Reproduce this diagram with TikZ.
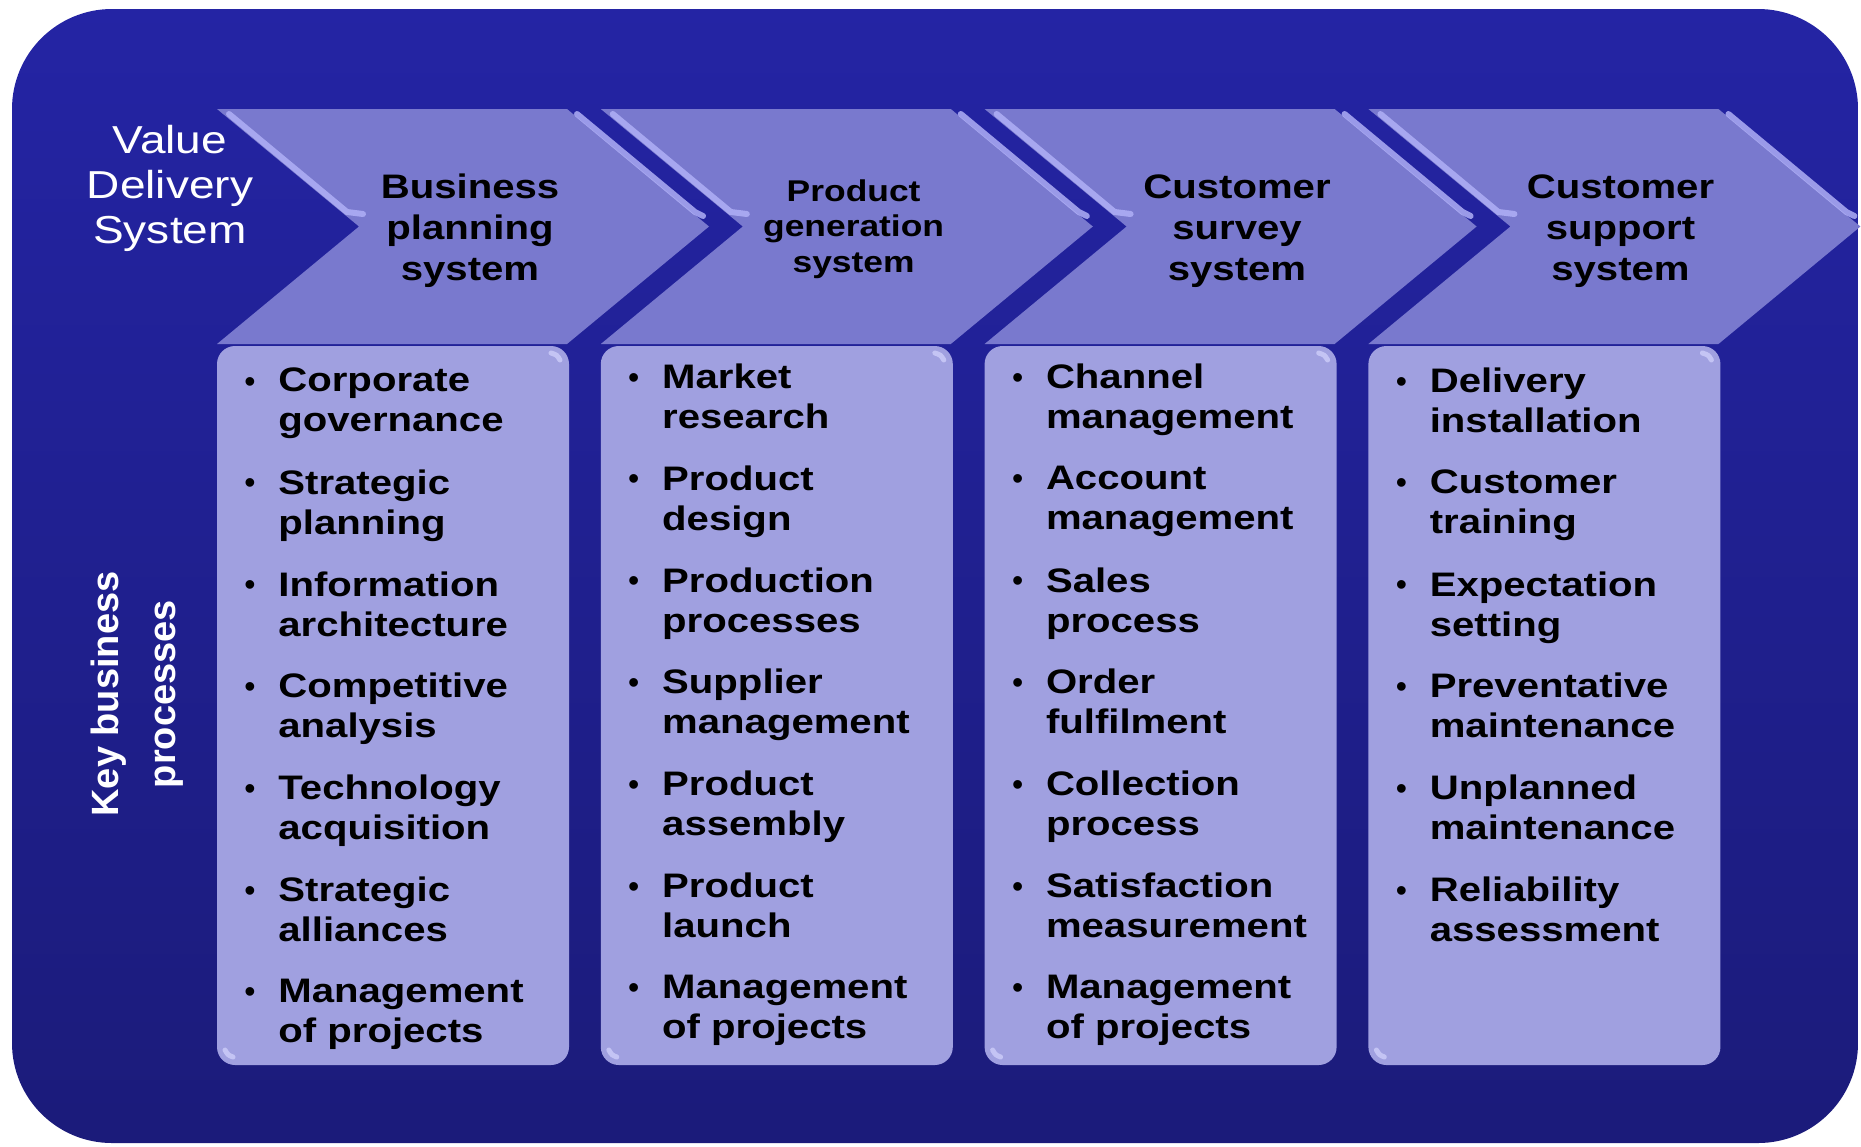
\documentclass[tikz,border=0pt]{standalone}
\usepackage{fontspec}
\setmainfont{Liberation Sans}
\newfontfamily\widefont{Liberation Sans}[FakeStretch=1.18]
\usetikzlibrary{positioning}
\definecolor{bgtop}{RGB}{36,36,164}
\definecolor{bgbot}{RGB}{27,27,122}
\definecolor{chevfill}{RGB}{121,121,206}
\definecolor{chevlight}{RGB}{176,176,246}
\definecolor{boxfill}{RGB}{160,160,224}
\definecolor{boxlight}{RGB}{206,206,250}
\tikzset{
  pics/chevron/.style={code={
    \fill[chevfill] (0,109) -- (350,109) -- (492,226.5) -- (350,344) -- (0,344) -- (142,226.5) -- cycle;
    \draw[chevlight, line width=3pt, line cap=round, opacity=0.85] (12,114) -- (130,212) -- (146,214);
    \draw[chevlight, line width=3pt, line cap=round, opacity=0.85] (360,114) -- (478,212) -- (486,216);
  }},
  pics/procbox/.style={code={
    \fill[boxfill, rounded corners=9pt] (0,346) rectangle (352,1065);
    \draw[boxlight, line width=2.5pt, line cap=round, opacity=0.8] (334,353) .. controls (340,355) .. (343,360);
    \draw[boxlight, line width=2.5pt, line cap=round, opacity=0.8] (8,1050) .. controls (11,1055) .. (16,1057);
  }},
  vds/.style={text=white, align=center, inner sep=0pt,
    font=\widefont\fontsize{19.5pt}{22.5pt}\selectfont},
  kbp/.style={text=white, align=center, inner sep=0pt,
    font=\bfseries\fontsize{19pt}{28.5pt}\selectfont},
  ttl/.style={text=black, align=center, inner sep=0pt,
    font=\widefont\bfseries\fontsize{17pt}{20.5pt}\selectfont},
  ttlsmall/.style={ttl, font=\widefont\bfseries\fontsize{15pt}{17.8pt}\selectfont},
  itm/.style={text=black, align=left, inner sep=0pt, anchor=north west,
    font=\widefont\bfseries\fontsize{17pt}{20pt}\selectfont},
  bul/.style={text=black, inner sep=0pt, anchor=base,
    font=\fontsize{16pt}{16pt}\selectfont}
}
% one bullet entry: name, box left, baseline, text
\newcommand{\procitem}[4]{%
  \node[bul] (#1-b) at ({#2+33},{#3}) {\textbullet};
  \node[itm] (#1) at ({#2+61},{#3-24.5}) {#4};
}

\begin{document}
\begin{tikzpicture}[x=0.5pt,y=-0.5pt]
\useasboundingbox (0,0) rectangle (1861,1146);

% ---------------- Backdrop ----------------
\shade[top color=bgtop, bottom color=bgbot, rounded corners=50pt] (12,9) rectangle (1858,1143);

% ---------------- Chevrons and process boxes ----------------
\foreach \i in {0,...,3} {
  \pgfmathsetmacro\xo{217+383.8*\i}
  \draw (\xo,0) pic {chevron};
  \draw (\xo,0) pic {procbox};
}

% ---------------- Side labels ----------------
\node[vds] (vds) at (170,188.5) {Value\\Delivery\\System};
\node[kbp, rotate=90] (kbp) at (137,694) {Key business\\processes};

% ---------------- Chevron titles ----------------
\node[ttl] (t1) at (470,231) {Business\\planning\\system};
\node[ttlsmall] (t2) at (853.6,229) {Product\\generation\\system};
\node[ttl] (t3) at (1237,231) {Customer\\survey\\system};
\node[ttl] (t4) at (1620.5,231) {Customer\\support\\system};

% ---------------- Box 1 ----------------
\foreach \txt [count=\k] in {Corporate\\governance, Strategic\\planning,
    Information\\architecture, Competitive\\analysis, Technology\\acquisition,
    Strategic\\alliances, Management\\of projects}
  {\procitem{a\k}{217}{392+(\k-1)*101.8}{\txt}}

% ---------------- Box 2 ----------------
\foreach \txt [count=\k] in {Market\\research, Product\\design,
    Production\\processes, Supplier\\management, Product\\assembly,
    Product\\launch, Management\\of projects}
  {\procitem{b\k}{600.8}{388+(\k-1)*101.8}{\txt}}

% ---------------- Box 3 ----------------
\foreach \txt [count=\k] in {Channel\\management, Account\\management,
    Sales\\process, Order\\fulfilment, Collection\\process,
    Satisfaction\\measurement, Management\\of projects}
  {\procitem{c\k}{984.6}{388+(\k-1)*101.8}{\txt}}

% ---------------- Box 4 ----------------
\foreach \txt [count=\k] in {Delivery\\installation, Customer\\training,
    Expectation\\setting, Preventative\\maintenance, Unplanned\\maintenance,
    Reliability\\assessment}
  {\procitem{d\k}{1368.4}{392+(\k-1)*101.8}{\txt}}

\end{tikzpicture}
\end{document}
